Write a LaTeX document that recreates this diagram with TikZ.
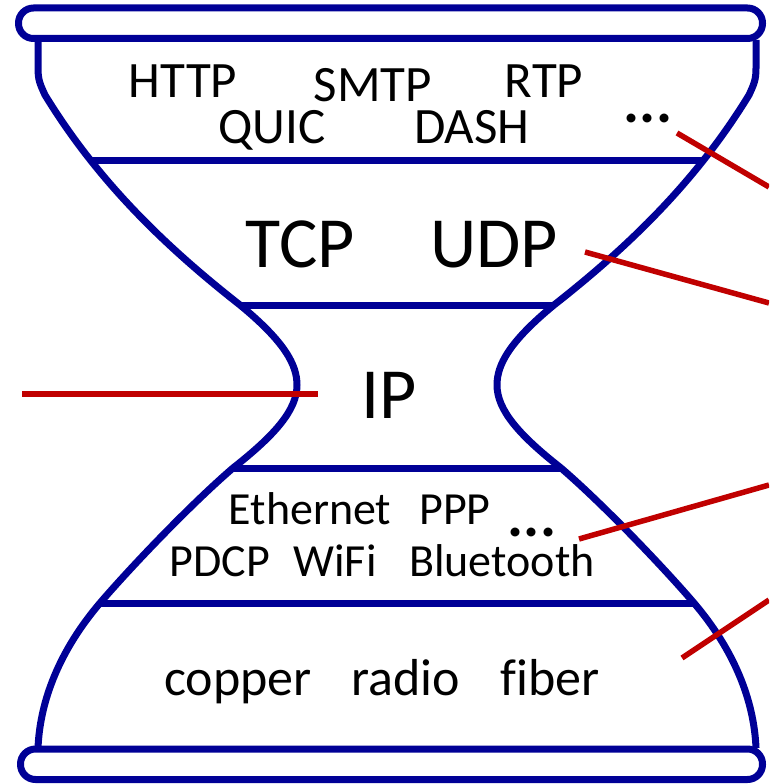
\documentclass[tikz,border=0pt]{standalone}
\usepackage{fontspec}
\setmainfont{Carlito}[Ligatures=NoCommon]
\definecolor{hgblue}{RGB}{0,0,150}
\definecolor{hgred}{RGB}{192,0,0}
\begin{document}
\begin{tikzpicture}[x=1pt,y=-1pt,
  outline/.style={draw=hgblue,line width=7pt,line join=round},
  link/.style={draw=hgred,line width=5.5pt},
  lbl/.style={anchor=base,inner sep=0pt,text=black},
  fa/.style={lbl,font=\fontsize{51}{60}\selectfont},
  fb/.style={lbl,font=\fontsize{72}{80}\selectfont},
  fc/.style={lbl,font=\fontsize{46}{54}\selectfont},
  fd/.style={lbl,font=\fontsize{52}{60}\selectfont},
  dots/.style={lbl,font=\fontsize{60}{66}\selectfont\bfseries}]
\useasboundingbox (0,0) rectangle (769,784);
\clip (0,0) rectangle (769,784);
% hourglass outline, left half and its mirror image
\foreach \s/\o in {1/0,-1/794}{
\begin{scope}[xshift=\o pt,xscale=\s]
\draw[outline] (38,40) -- (38,68) .. controls (38,80) and (40,84) .. (45,95)
  .. controls (100,185) and (170,250) .. (240,305)
  .. controls (285,342) and (297,365) .. (297,385)
  .. controls (297,410) and (275,435) .. (233,468)
  .. controls (190,505) and (130,568) .. (100,603)
  .. controls (60,650) and (40,700) .. (38,748);
\end{scope}}
% layer separators
\draw[outline] (89,160) -- (705,160);
\draw[outline] (240,305) -- (554,305);
\draw[outline] (233,468) -- (561,468);
\draw[outline] (100,603) -- (694,603);
% end caps
\draw[outline,rounded corners=15pt] (18.5,8) rectangle (762.5,38.5);
\draw[outline,rounded corners=15pt] (20.5,749) rectangle (762.5,779.5);
% labels
\node[fa] (http) at (183,97) {HTTP};
\node[fa] (smtp) at (373,101) {SMTP};
\node[fa] (rtp) at (544,97) {RTP};
\node[fa] (quic) at (272,143) {QUIC};
\node[fa] (dash) at (472,143) {DASH};
\node[dots] (appdots) at (648,122) {...};
\node[fb] (tcp) at (300,267) {TCP};
\node[fb] (udp) at (494,267) {UDP};
\node[fb] (ip) at (389,418) {IP};
\node[fc] (eth) at (310,524) {Ethernet};
\node[fc] (ppp) at (455,524) {PPP};
\node[dots] (linkdots) at (532,536) {\smash{...}};
\node[fc] (pdcp) at (220,576) {PDCP};
\node[fc] (wifi) at (335,576) {WiFi};
\node[fc] (bt) at (502,576) {Bluetooth};
\node[fd] (copper) at (238,695) {copper};
\node[fd] (radio) at (406,695) {radio};
\node[fd] (fiber) at (550,695) {fiber};
% red pointer lines
\coordinate (a1) at (677,133); \coordinate (b1) at (769,187);
\coordinate (a2) at (585,252); \coordinate (b2) at (769,303);
\coordinate (a3) at (318,394); \coordinate (b3) at (22,394);
\coordinate (a4) at (579,539); \coordinate (b4) at (769,485);
\coordinate (a5) at (682,658); \coordinate (b5) at (769,600);
\draw[link] (a1) -- (b1);
\draw[link] (a2) -- (b2);
\draw[link] (b3) -- (a3);
\draw[link] (a4) -- (b4);
\draw[link] (a5) -- (b5);
\end{tikzpicture}
\end{document}
